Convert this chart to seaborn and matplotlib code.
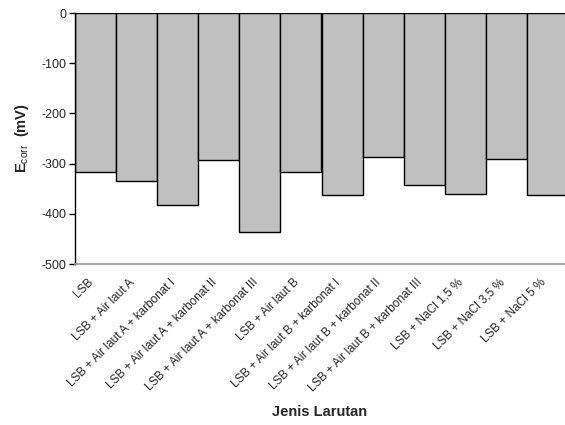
import matplotlib
matplotlib.use('Agg')
import matplotlib.pyplot as plt
import matplotlib.transforms as mtransforms
import pandas as pd
import seaborn as sns

larutan = ['LSB', 'LSB + Air laut A', 'LSB + Air laut A + karbonat I',
           'LSB + Air laut A + karbonat II', 'LSB + Air laut A + karbonat III',
           'LSB + Air laut B', 'LSB + Air laut B + karbonat I',
           'LSB + Air laut B + karbonat II', 'LSB + Air laut B + karbonat III',
           'LSB + NaCl 1,5 %', 'LSB + NaCl 3,5 %', 'LSB + NaCl 5 %']
ecorr = [-317, -335, -382, -292, -437, -317, -363, -287, -343, -361, -290, -363]
y_ticks = [0, -100, -200, -300, -400, -500]

df = pd.DataFrame({'larutan': larutan, 'ecorr': ecorr})

sns.set_style('white')
plt.rcParams['font.family'] = ['Liberation Sans', 'DejaVu Sans']
plt.rcParams['mathtext.fontset'] = 'custom'
plt.rcParams['mathtext.rm'] = 'Liberation Sans'
plt.rcParams['mathtext.bf'] = 'Liberation Sans:bold'

fig = plt.figure(figsize=(5.65, 4.25), dpi=100)
ax = fig.add_axes([75 / 565, 1 - 264 / 425, 493 / 565, 251 / 425])

sns.barplot(data=df, x='larutan', y='ecorr', color='#c0c0c0', edgecolor='black',
            linewidth=1, width=1, saturation=1, ax=ax)

ax.set_xlim(-0.5, 11.5)
ax.set_ylim(-500, 0)
ax.set_yticks(y_ticks)
ax.set_yticklabels([str(t) for t in y_ticks], fontsize=9)
ax.tick_params(axis='y', direction='out', length=4, width=1, color='black', pad=2, left=True)
ax.tick_params(axis='x', length=0, pad=1)
ax.set_xticks(range(len(larutan)))
ax.set_xticklabels(larutan, rotation=45, ha='right', rotation_mode='anchor', fontsize=8.5)

# shift the slanted labels a bit left and down, like the original
shift = mtransforms.ScaledTranslation(-8 / 100, -11 / 100, fig.dpi_scale_trans)
for lbl in ax.get_xticklabels():
    lbl.set_transform(lbl.get_transform() + shift)

for side in ['top', 'right']:
    ax.spines[side].set_visible(False)
ax.spines['left'].set_color('black')
ax.spines['left'].set_linewidth(1)
ax.spines['bottom'].set_color('#999999')
ax.spines['bottom'].set_linewidth(1.2)

ax.set_ylabel(r'$\mathbf{E}_{\mathrm{corr}}$  (mV)', fontsize=10.5, fontweight='bold', labelpad=8)
ax.set_xlabel('')
fig.text(320 / 565, 1 - 412 / 425, 'Jenis Larutan', ha='center', va='center',
         fontsize=10.5, fontweight='bold')

plt.savefig('out.png', dpi=100)
